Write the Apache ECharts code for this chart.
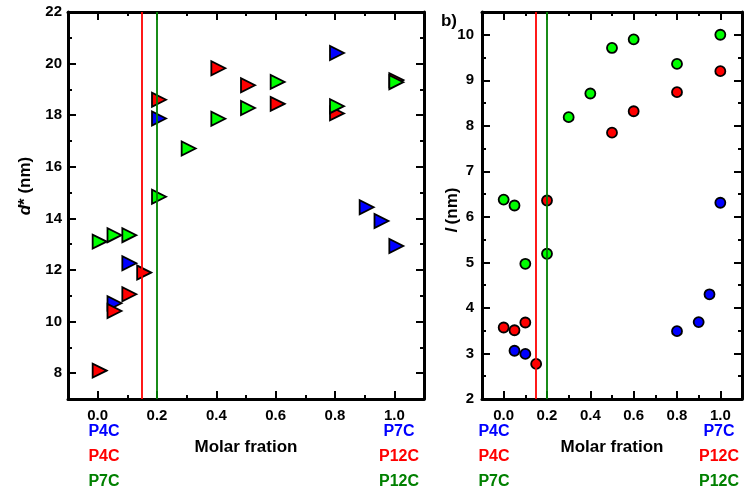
<!DOCTYPE html>
<html>
<head>
<meta charset="utf-8">
<script src="https://cdn.jsdelivr.net/npm/echarts@6/dist/echarts.min.js"></script>
<style>html,body{margin:0;padding:0;background:#fff;}#c{width:746px;height:497px;}</style>
</head>
<body>
<div id="c"></div>
<script>
// ---- Data ----
const xMajorTicks = [0, 0.2, 0.4, 0.6, 0.8, 1.0];
const leftYMajorTicks = [8, 10, 12, 14, 16, 18, 20, 22];
const rightYMajorTicks = [2, 3, 4, 5, 6, 7, 8, 9, 10];

// Panel a: d* (nm), triangles
const aBlueX = [0.05, 0.1, 0.2, 0.8, 0.9, 0.95, 1.0];
const aBlueY = [10.71, 12.26, 17.87, 20.41, 14.43, 13.9, 12.93];
const aRedX = [0, 0.05, 0.1, 0.15, 0.2, 0.4, 0.5, 0.6, 0.8, 1.0];
const aRedY = [8.1, 10.41, 11.06, 11.9, 18.6, 19.82, 19.16, 18.44, 18.07, 19.36];
const aGreenX = [0, 0.05, 0.1, 0.2, 0.3, 0.4, 0.5, 0.6, 0.8, 1.0];
const aGreenY = [13.1, 13.35, 13.35, 14.84, 16.71, 17.86, 18.28, 19.29, 18.35, 19.28];

// Panel b: l (nm), circles
const bBlueX = [0.05, 0.1, 0.8, 0.9, 0.95, 1.0];
const bBlueY = [3.06, 2.99, 3.49, 3.69, 4.3, 6.31];
const bRedX = [0, 0.05, 0.1, 0.15, 0.2, 0.5, 0.6, 0.8, 1.0];
const bRedY = [3.57, 3.51, 3.68, 2.77, 6.36, 7.85, 8.32, 8.74, 9.2];
const bGreenX = [0, 0.05, 0.1, 0.2, 0.3, 0.4, 0.5, 0.6, 0.8, 1.0];
const bGreenY = [6.38, 6.25, 4.97, 5.19, 8.19, 8.71, 9.71, 9.9, 9.36, 10.0];

const redLineX = 0.15;
const greenLineX = 0.2;

const leftLabelsText = [['P4C', 'P4C', 'P7C'], ['P7C', 'P12C', 'P12C']];

// ---- Build ----
const BLUE = '#0000FF', RED = '#FF0000', GREEN = '#00FF00', DGREEN = '#008000';
const FONT = 'Arial, "Liberation Sans", sans-serif';

function zip(xs, ys) { return xs.map((x, i) => [x, ys[i]]); }

function axisPair(gridIndex, position, min, max, majors, minorStep, showLabels, fmt, margin) {
  const major = {
    type: 'value', gridIndex, position, min, max,
    axisLine: { show: true, onZero: false, lineStyle: { color: '#000', width: 3 } },
    axisTick: { show: true, inside: true, length: 8, customValues: majors, lineStyle: { color: '#000', width: 2 } },
    axisLabel: { show: showLabels, customValues: majors, formatter: fmt, margin: margin,
      color: '#000', fontSize: 15, fontWeight: 'bold', fontFamily: FONT },
    splitLine: { show: false }
  };
  const minor = {
    type: 'value', gridIndex, position, min, max, interval: minorStep,
    axisLine: { show: false, onZero: false },
    axisTick: { show: true, inside: true, length: 4, lineStyle: { color: '#000', width: 2 } },
    axisLabel: { show: false },
    splitLine: { show: false }
  };
  return [major, minor];
}

const fmtX = v => Number(v).toFixed(1);
const fmtY = v => String(Math.round(v));

const xAxes = [];
const yAxes = [];
// grid 0
xAxes.push(...axisPair(0, 'bottom', -0.1, 1.1, xMajorTicks, 0.1, true, fmtX, 9));
xAxes.push(...axisPair(0, 'top', -0.1, 1.1, xMajorTicks, 0.1, false, fmtX, 8));
yAxes.push(...axisPair(0, 'left', 7, 22, leftYMajorTicks, 1, true, fmtY, 6));
yAxes.push(...axisPair(0, 'right', 7, 22, leftYMajorTicks, 1, false, fmtY, 8));
// grid 1
xAxes.push(...axisPair(1, 'bottom', -0.1, 1.1, xMajorTicks, 0.1, true, fmtX, 9));
xAxes.push(...axisPair(1, 'top', -0.1, 1.1, xMajorTicks, 0.1, false, fmtX, 8));
yAxes.push(...axisPair(1, 'left', 2, 10.5, rightYMajorTicks, 0.5, true, fmtY, 8));
yAxes.push(...axisPair(1, 'right', 2, 10.5, rightYMajorTicks, 0.5, false, fmtY, 8));

function scatter(xi, yi, data, color, symbol, size, rotate, offset, z) {
  return {
    type: 'scatter', xAxisIndex: xi, yAxisIndex: yi, data,
    symbol, symbolSize: size, symbolRotate: rotate, symbolOffset: offset,
    itemStyle: { color, borderColor: '#000', borderWidth: 1.8, opacity: 1 },
    z, silent: true, animation: false
  };
}
function vline(xi, yi, x, color) {
  return {
    type: 'scatter', xAxisIndex: xi, yAxisIndex: yi, data: [], z: 10, silent: true, animation: false,
    markLine: { silent: true, symbol: ['none', 'none'], label: { show: false }, animation: false,
      lineStyle: { color, width: 1.8, type: 'solid' }, data: [{ xAxis: x }] }
  };
}

const series = [
  scatter(0, 0, zip(aBlueX, aBlueY), BLUE, 'triangle', 14, -90, [2, 0], 2),
  scatter(0, 0, zip(aRedX, aRedY), RED, 'triangle', 14, -90, [2, 0], 3),
  scatter(0, 0, zip(aGreenX, aGreenY), GREEN, 'triangle', 14, -90, [2, 0], 4),
  vline(0, 0, redLineX, RED),
  vline(0, 0, greenLineX, DGREEN),
  scatter(4, 4, zip(bBlueX, bBlueY), BLUE, 'circle', 10, 0, [0, 0], 2),
  scatter(4, 4, zip(bRedX, bRedY), RED, 'circle', 10, 0, [0, 0], 3),
  scatter(4, 4, zip(bGreenX, bGreenY), GREEN, 'circle', 10, 0, [0, 0], 4),
  vline(4, 4, redLineX, RED),
  vline(4, 4, greenLineX, DGREEN)
];

function txt(x, y, text, color, size, extra) {
  return Object.assign({
    type: 'text', x, y, silent: true,
    style: { text, fill: color, font: 'bold ' + size + 'px ' + FONT, align: 'center', verticalAlign: 'middle' }
  }, extra || {});
}

const colsText = [BLUE, RED, DGREEN];
const graphics = [];
const labelRows = [432, 457, 482];
const labelCols = [[104, leftLabelsText[0]], [399, leftLabelsText[1]], [494, leftLabelsText[0]], [719, leftLabelsText[1]]];
labelCols.forEach(([x, arr]) => {
  arr.forEach((t, i) => graphics.push(txt(x, labelRows[i], t, colsText[i], 16)));
});
graphics.push(txt(246, 447, 'Molar fration', '#000', 17));
graphics.push(txt(612, 447, 'Molar fration', '#000', 17));
graphics.push(txt(449, 21, 'b)', '#000', 17));
graphics.push({
  type: 'text', x: 25, y: 186, rotation: Math.PI / 2, silent: true,
  style: {
    text: '{i|d}{n|* (nm)}', align: 'center', verticalAlign: 'middle',
    rich: {
      i: { font: 'italic bold 17px ' + FONT, fill: '#000' },
      n: { font: 'bold 17px ' + FONT, fill: '#000' }
    }
  }
});
graphics.push({
  type: 'text', x: 452, y: 210, rotation: Math.PI / 2, silent: true,
  style: {
    text: '{i|l} {n|(nm)}', align: 'center', verticalAlign: 'middle',
    rich: {
      i: { font: 'italic bold 17px ' + FONT, fill: '#000' },
      n: { font: 'bold 17px ' + FONT, fill: '#000' }
    }
  }
});

const chart = echarts.init(document.getElementById('c'), null, { renderer: 'canvas' });
chart.setOption({
  backgroundColor: '#fff',
  animation: false,
  grid: [
    { left: 68, right: 322, top: 12, bottom: 98 },
    { left: 482, right: 4, top: 12, bottom: 98 }
  ],
  xAxis: xAxes,
  yAxis: yAxes,
  series,
  graphic: graphics
});
</script>
</body>
</html>
